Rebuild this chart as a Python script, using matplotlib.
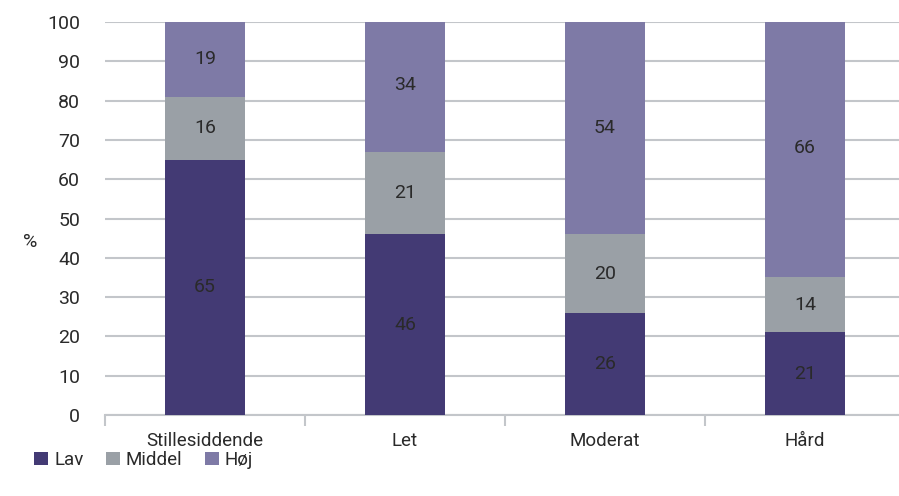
import matplotlib.pyplot as plt
import numpy as np

# data
kategorier = ["Stillesiddende", "Let", "Moderat", "Hård"]
lav = [65, 46, 26, 21]
middel = [16, 21, 20, 14]
hoej = [19, 34, 54, 66]
serier = ["Lav", "Middel", "Høj"]
farver = ["#433a74", "#9aa0a6", "#7e7aa6"]

plt.rcParams['font.family'] = ['Roboto', 'DejaVu Sans']
tekstfarve = '#2a2a2a'

fig = plt.figure(figsize=(8.99, 4.96), dpi=100)
ax = fig.add_axes([105/899, 81/496, 800/899, 393/496])

x = np.arange(len(kategorier))
bund = np.zeros(len(kategorier))
for navn, vaerdier, farve in zip(serier, [lav, middel, hoej], farver):
    bars = ax.bar(x, vaerdier, 0.4, bottom=bund, color=farve, label=navn, zorder=3)
    for b, v in zip(bars, vaerdier):
        ax.text(b.get_x() + b.get_width()/2, b.get_y() + b.get_height()/2, str(v),
                ha='center', va='center', fontsize=14, color=tekstfarve, zorder=4)
    bund += np.array(vaerdier)

ax.set_xlim(-0.5, len(kategorier) - 0.5)
ax.set_ylim(0, 100)
ax.set_yticks(np.arange(0, 101, 10))
ax.yaxis.grid(True, color='#c3c6ca', linewidth=1.5, zorder=0)
ax.set_xticks(x)
ax.set_xticklabels(kategorier)
ax.set_xticks(np.arange(-0.5, len(kategorier)), minor=True)
ax.tick_params(axis='x', which='major', length=0, pad=12, labelsize=13.5, labelcolor=tekstfarve)
ax.tick_params(axis='x', which='minor', length=8, width=1.5, color='#c3c6ca')
ax.tick_params(axis='y', length=0, pad=18, labelsize=14, labelcolor=tekstfarve)
for s in ['top', 'right', 'left']:
    ax.spines[s].set_visible(False)
ax.spines['bottom'].set_color('#c3c6ca')
ax.spines['bottom'].set_linewidth(1.5)

fig.text(30/899, 1 - 242/496, "%", ha='center', va='center', fontsize=14, color=tekstfarve)

fig.legend(loc='center left', bbox_to_anchor=(25/899, 1 - 460/496), ncol=3, frameon=False,
           fontsize=13.5, handlelength=0.75, handleheight=0.75, handletextpad=0.3,
           columnspacing=1.2, labelcolor=tekstfarve, borderpad=0)

fig.savefig("out.png", dpi=100)
